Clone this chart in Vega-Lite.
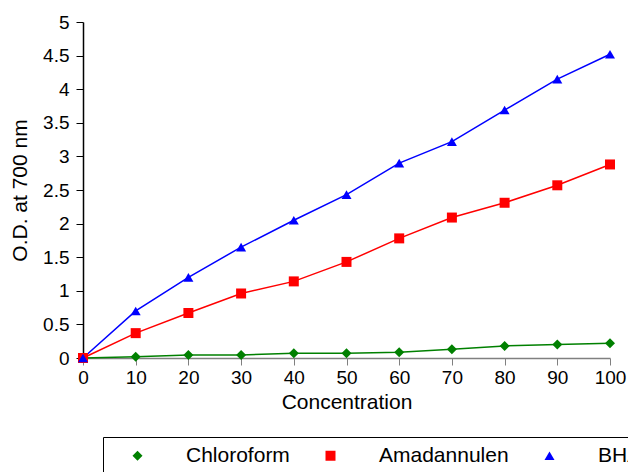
{
  "$schema": "https://vega.github.io/schema/vega-lite/v6.json",
  "width": 527,
  "height": 336,
  "autosize": {"type": "none"},
  "padding": {"left": 83, "top": 22, "right": 18, "bottom": 114},
  "background": "white",
  "config": {
    "font": "Liberation Sans",
    "view": {"stroke": null},
    "axis": {"grid": false, "labelColor": "black", "titleColor": "black", "labelFont": "Liberation Sans", "titleFont": "Liberation Sans", "titleFontWeight": "normal"}
  },
  "data": {
    "values": [
      {"c": 0, "s": "Chloroform", "v": 0},
      {"c": 10, "s": "Chloroform", "v": 0.02},
      {"c": 20, "s": "Chloroform", "v": 0.045},
      {"c": 30, "s": "Chloroform", "v": 0.045},
      {"c": 40, "s": "Chloroform", "v": 0.07},
      {"c": 50, "s": "Chloroform", "v": 0.07},
      {"c": 60, "s": "Chloroform", "v": 0.085},
      {"c": 70, "s": "Chloroform", "v": 0.13},
      {"c": 80, "s": "Chloroform", "v": 0.18},
      {"c": 90, "s": "Chloroform", "v": 0.2},
      {"c": 100, "s": "Chloroform", "v": 0.22},
      {"c": 0, "s": "Amadannulen", "v": 0},
      {"c": 10, "s": "Amadannulen", "v": 0.37},
      {"c": 20, "s": "Amadannulen", "v": 0.67},
      {"c": 30, "s": "Amadannulen", "v": 0.96},
      {"c": 40, "s": "Amadannulen", "v": 1.14},
      {"c": 50, "s": "Amadannulen", "v": 1.43},
      {"c": 60, "s": "Amadannulen", "v": 1.78},
      {"c": 70, "s": "Amadannulen", "v": 2.09},
      {"c": 80, "s": "Amadannulen", "v": 2.31},
      {"c": 90, "s": "Amadannulen", "v": 2.57},
      {"c": 100, "s": "Amadannulen", "v": 2.88},
      {"c": 0, "s": "BHA", "v": 0},
      {"c": 10, "s": "BHA", "v": 0.7},
      {"c": 20, "s": "BHA", "v": 1.2},
      {"c": 30, "s": "BHA", "v": 1.65},
      {"c": 40, "s": "BHA", "v": 2.05},
      {"c": 50, "s": "BHA", "v": 2.43},
      {"c": 60, "s": "BHA", "v": 2.9},
      {"c": 70, "s": "BHA", "v": 3.22},
      {"c": 80, "s": "BHA", "v": 3.69},
      {"c": 90, "s": "BHA", "v": 4.15},
      {"c": 100, "s": "BHA", "v": 4.52}
    ]
  },
  "encoding": {
    "x": {
      "field": "c", "type": "quantitative",
      "scale": {"domain": [0, 100], "nice": false, "zero": false},
      "axis": {
        "title": "Concentration", "values": [0,10,20,30,40,50,60,70,80,90,100],
        "domainColor": "#808080", "domainWidth": 1.5, "tickColor": "#808080", "tickWidth": 1, "tickSize": 7,
        "labelFontSize": 19, "labelPadding": 3, "titleFontSize": 21, "titlePadding": 4, "labelFlush": false, "labelOverlap": false
      }
    },
    "y": {
      "field": "v", "type": "quantitative",
      "scale": {"domain": [0, 5], "nice": false},
      "axis": {
        "title": "O.D. at 700 nm", "values": [0,0.5,1,1.5,2,2.5,3,3.5,4,4.5,5], "format": "~g",
        "domainColor": "black", "domainWidth": 1.5, "tickColor": "black", "tickWidth": 1, "tickSize": 7,
        "labelFontSize": 19, "labelPadding": 7, "titleFontSize": 21, "titlePadding": 12, "labelFlush": false, "labelOverlap": false
      }
    }
  },
  "layer": [
    {
      "transform": [{"filter": "datum.s === 'Chloroform'"}],
      "mark": {"type": "line", "color": "#008000", "strokeWidth": 1.5}
    },
    {
      "transform": [{"filter": "datum.s === 'Amadannulen'"}],
      "mark": {"type": "line", "color": "#ff0000", "strokeWidth": 1.5}
    },
    {
      "transform": [{"filter": "datum.s === 'BHA'"}],
      "mark": {"type": "line", "color": "#0000ff", "strokeWidth": 1.5}
    },
    {
      "mark": {"type": "point", "filled": true, "opacity": 1, "size": 100},
      "encoding": {
        "shape": {"field": "s", "type": "nominal",
          "scale": {"domain": ["Chloroform", "Amadannulen", "BHA"], "range": ["diamond", "square", "triangle-up"]},
          "legend": {
            "title": null, "orient": "none", "legendX": 20, "legendY": 415, "direction": "horizontal",
            "strokeColor": "black", "padding": 8, "fillColor": "white",
            "labelFontSize": 21, "labelFont": "Liberation Sans", "labelColor": "black",
            "labelOffset": 38, "symbolOffset": 16, "columnPadding": 14, "symbolSize": 100, "symbolOpacity": 1
          }},
        "color": {"field": "s", "type": "nominal",
          "scale": {"domain": ["Chloroform", "Amadannulen", "BHA"], "range": ["#008000", "#ff0000", "#0000ff"]},
          "legend": {
            "title": null, "orient": "none", "legendX": 20, "legendY": 415, "direction": "horizontal",
            "strokeColor": "black", "padding": 8, "fillColor": "white",
            "labelFontSize": 21, "labelFont": "Liberation Sans", "labelColor": "black",
            "labelOffset": 38, "symbolOffset": 16, "columnPadding": 14, "symbolSize": 100, "symbolOpacity": 1
          }}
      }
    }
  ]
}
